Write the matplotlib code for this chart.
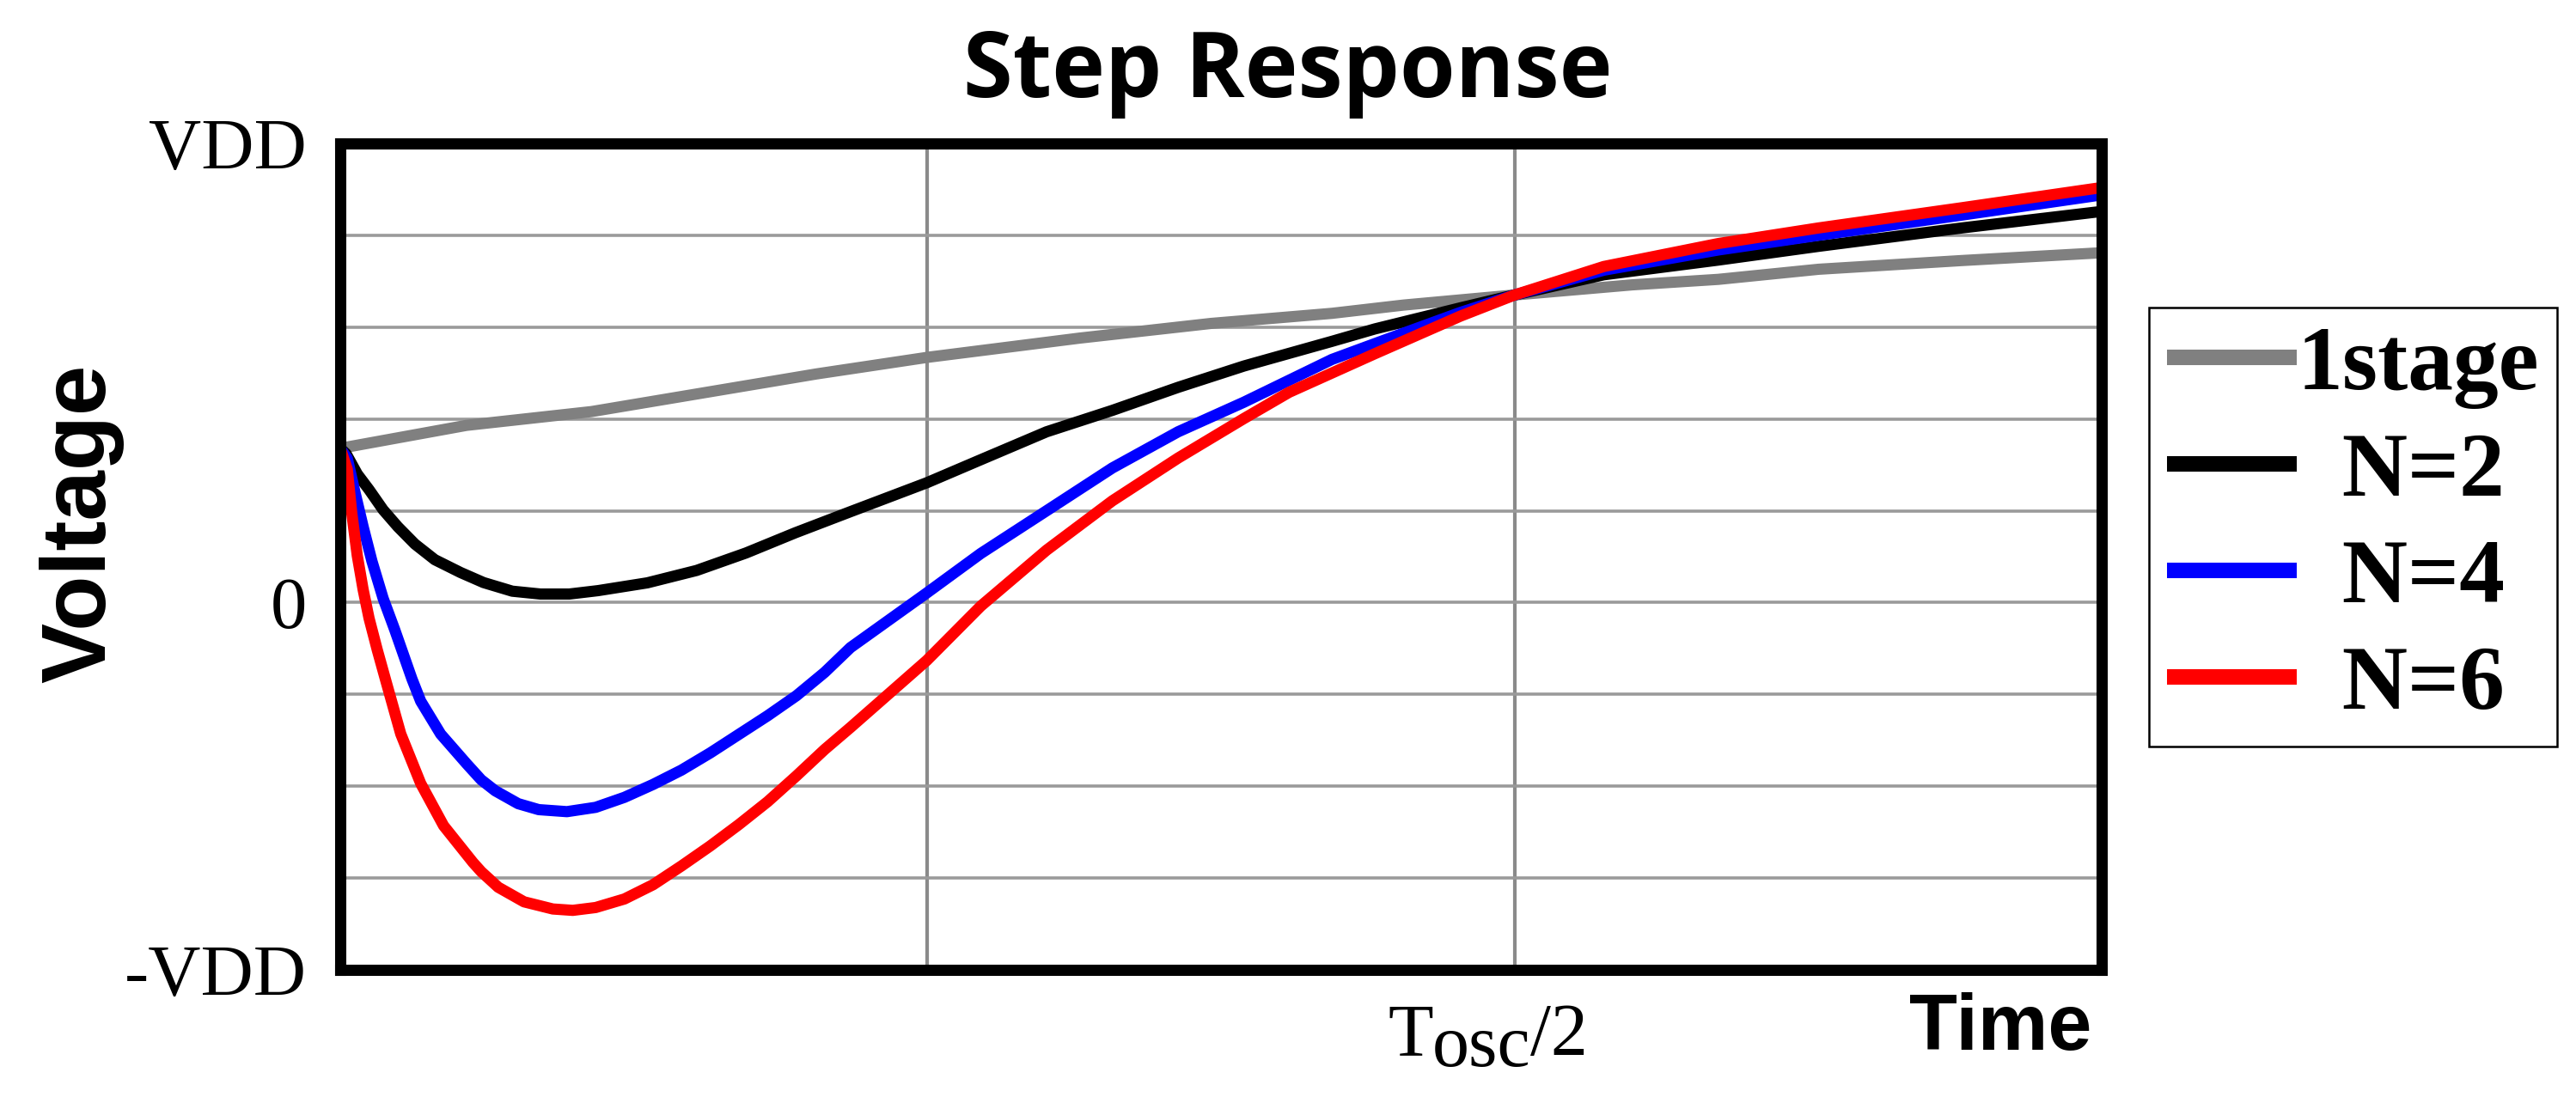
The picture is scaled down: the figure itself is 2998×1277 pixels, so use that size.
import matplotlib
matplotlib.use('Agg')
import matplotlib.pyplot as plt

# ---------------- data ----------------
# x: time in units of Tosc/4  (x = 2 -> Tosc/2); y: voltage in grid divisions
# (y = 5 -> VDD, y = 0 -> 0, y = -4 -> -VDD)
x_1stage = [0, 0.215, 0.428, 0.811, 0.999, 1.259, 1.483, 1.689, 1.811, 2.0,
            2.2, 2.347, 2.518, 2.762, 3.0]
v_1stage = [1.68, 1.93, 2.08, 2.49, 2.67, 2.88, 3.04, 3.15, 3.24, 3.35,
            3.46, 3.52, 3.63, 3.725, 3.81]

x_n2 = [0, 0.01, 0.029, 0.049, 0.073, 0.098, 0.127, 0.161, 0.205, 0.244,
        0.293, 0.341, 0.39, 0.439, 0.523, 0.607, 0.691, 0.775, 0.869, 0.999,
        1.091, 1.203, 1.315, 1.427, 1.539, 1.689, 1.762, 1.908, 2.0, 2.152,
        2.347, 2.518, 2.762, 3.0]
v_n2 = [1.68, 1.62, 1.40, 1.23, 1.01, 0.826, 0.638, 0.467, 0.327, 0.218,
        0.124, 0.093, 0.093, 0.13, 0.215, 0.35, 0.54, 0.76, 0.99, 1.305,
        1.556, 1.86, 2.093, 2.344, 2.576, 2.845, 2.98, 3.21, 3.35, 3.57,
        3.73, 3.88, 4.08, 4.26]

x_n4 = [0, 0.012, 0.024, 0.039, 0.054, 0.073, 0.093, 0.122, 0.137, 0.171,
        0.215, 0.24, 0.264, 0.303, 0.338, 0.386, 0.435, 0.484, 0.533, 0.581,
        0.63, 0.679, 0.728, 0.777, 0.825, 0.869, 0.999, 1.091, 1.203, 1.315,
        1.427, 1.539, 1.689, 1.762, 1.908, 2.0, 2.152, 2.347, 2.518, 2.762,
        3.0]
v_n4 = [1.68, 1.57, 1.23, 0.825, 0.45, 0.046, -0.30, -0.83, -1.074, -1.432,
        -1.754, -1.93, -2.05, -2.19, -2.255, -2.277, -2.23, -2.121, -1.98, -1.825,
        -1.638, -1.435, -1.232, -1.014, -0.76, -0.49, 0.105, 0.535, 1.0, 1.466,
        1.86, 2.182, 2.648, 2.82, 3.16, 3.35, 3.62, 3.84, 4.0, 4.22,
        4.44]

x_n6 = [0, 0.012, 0.0195, 0.029, 0.039, 0.049, 0.063, 0.078, 0.103, 0.137,
        0.176, 0.226, 0.24, 0.269, 0.313, 0.362, 0.396, 0.435, 0.484, 0.533,
        0.581, 0.63, 0.679, 0.728, 0.777, 0.825, 0.869, 0.999, 1.091, 1.203,
        1.315, 1.427, 1.539, 1.616, 1.762, 1.908, 2.0, 2.152, 2.347, 2.518,
        2.762, 3.0]
v_n6 = [1.68, 1.45, 0.98, 0.51, 0.14, -0.17, -0.515, -0.86, -1.43, -1.97,
        -2.43, -2.83, -2.93, -3.10, -3.259, -3.337, -3.352, -3.321, -3.228, -3.072,
        -2.869, -2.651, -2.417, -2.168, -1.887, -1.60, -1.36, -0.63, -0.038, 0.571,
        1.108, 1.574, 2.004, 2.29, 2.71, 3.12, 3.35, 3.66, 3.91, 4.08,
        4.30, 4.52]

series_labels = ['1stage', 'N=2', 'N=4', 'N=6']
series_colors = ['#808080', '#000000', '#0000ff', '#ff0000']

ytick_values = list(range(-4, 6))
ytick_labels = ['-VDD', '', '', '', '0', '', '', '', '', 'VDD']
xtick_values = [0, 1, 2, 3]
x_label_pos = 2          # Tosc/2

# ---------------- figure ----------------
W, H, DPI = 2998, 1277, 200
fig = plt.figure(figsize=(W / DPI, H / DPI), dpi=DPI)
fig.patch.set_facecolor('white')

L, R, T, B = 396, 2446, 167, 1129
ax = fig.add_axes([L / W, 1 - B / H, (R - L) / W, (B - T) / H])

handles = []
for xs, ys, c, lab in zip([x_1stage, x_n2, x_n4, x_n6],
                          [v_1stage, v_n2, v_n4, v_n6],
                          series_colors, series_labels):
    ln, = ax.plot(xs, ys, color=c, lw=4.7, label=lab,
                  solid_joinstyle='round', solid_capstyle='butt')
    handles.append(ln)

ax.set_xlim(0, 3)
ax.set_ylim(-4, 5)
ax.set_yticks(ytick_values)
ax.set_yticklabels(ytick_labels, fontfamily='Liberation Serif', fontsize=30.5)
ax.set_xticks(xtick_values)
ax.set_xticklabels([])
ax.tick_params(length=0, pad=14)
ax.grid(axis='y', color='#9a9a9a', lw=1.3)
ax.grid(axis='x', color='#8a8a8a', lw=1.5)
ax.set_axisbelow(True)
for s in ax.spines.values():
    s.set_linewidth(4.7)
    s.set_color('black')
    s.set_capstyle('projecting')

# x tick label  "T_osc/2"
serif = dict(fontfamily='Liberation Serif', fontsize=31)
t1 = ax.annotate('T', xy=(x_label_pos, 0), xycoords=('data', 'axes fraction'),
                 xytext=(-147, -99), textcoords='offset pixels',
                 ha='left', va='baseline', **serif)
t2 = ax.annotate('osc', xy=(1, 0), xycoords=t1, xytext=(-2, -13),
                 textcoords='offset pixels', ha='left', va='bottom', **serif)
t3 = ax.annotate('/2', xy=(1, 0), xycoords=t2, xytext=(0, 13),
                 textcoords='offset pixels', ha='left', va='bottom', **serif)

# titles / axis labels
fig.text(0.5, 1 - 113 / H, 'Step Response', ha='center', va='baseline',
         fontsize=37.7, fontweight='bold', fontfamily='Open Sans')
fig.text(122 / W, 1 - 609 / H, 'Voltage', rotation=90, rotation_mode='anchor',
         ha='center', va='baseline', fontsize=37.8, fontweight='bold',
         fontfamily='Liberation Sans')
fig.text(2434 / W, 1 - 1222 / H, 'Time', ha='right', va='baseline',
         fontsize=33, fontweight='bold', fontfamily='Liberation Sans')

# legend
leg_labels = [series_labels[0]] + ['  ' + s for s in series_labels[1:]]
leg = fig.legend(handles, leg_labels, loc='upper left',
                 bbox_to_anchor=(2501 / W, 1 - 358 / H), borderaxespad=0,
                 frameon=True, fancybox=False, framealpha=1, edgecolor='black',
                 prop={'family': 'Liberation Serif', 'weight': 'bold', 'size': 38},
                 handlelength=1.43, handletextpad=0.0, borderpad=0.2,
                 labelspacing=0.256)
leg.get_frame().set_linewidth(0.9)
for h in leg.legend_handles:
    h.set_linewidth(6.5)

fig.savefig('out.png', dpi=DPI, facecolor='white')
